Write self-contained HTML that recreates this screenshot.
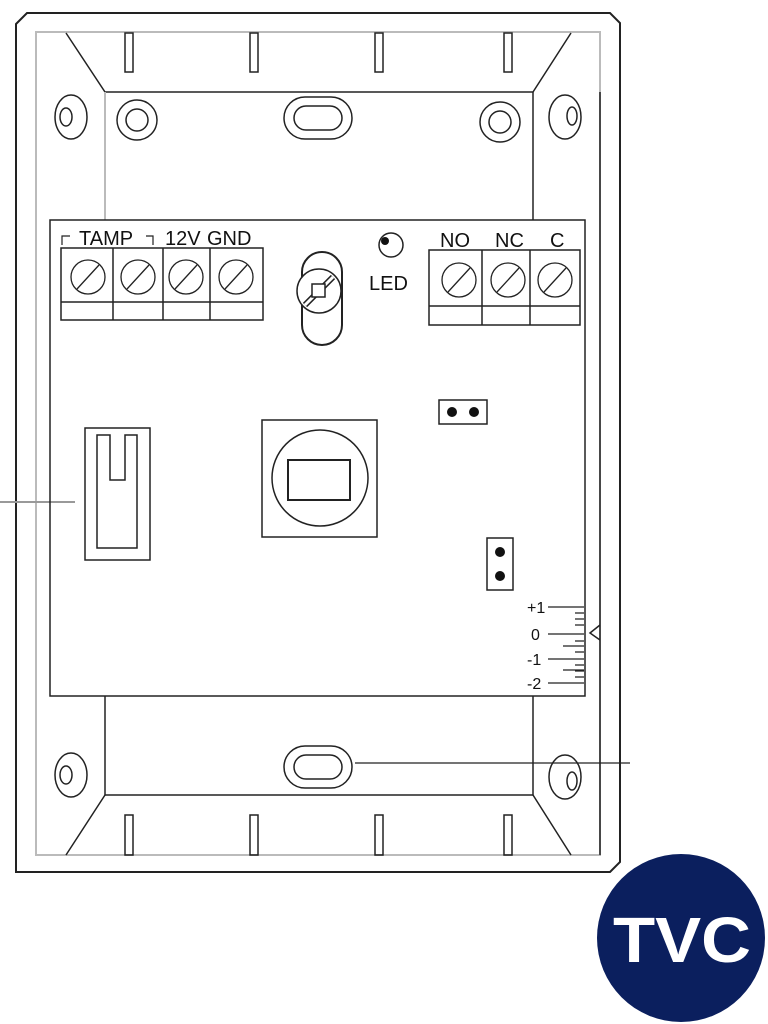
<!DOCTYPE html>
<html><head><style>body{margin:0;background:#fff}svg{display:block}</style></head><body>
<svg width="768" height="1024" viewBox="0 0 768 1024" xmlns="http://www.w3.org/2000/svg" font-family="Liberation Sans, sans-serif">
<g fill="none" stroke="#222" stroke-width="2">
<path d="M16 24 L27 13 L610 13 L620 23 L620 862 L610 872 L16 872 Z"/>
<path d="M36 32 L600 32 L600 855 L36 855 Z" stroke="#bbb"/>
<path d="M600 92 L600 855" stroke-width="1.5"/>
<path d="M66 33 L105 92 L533 92 L571 33" stroke-width="1.5"/>
<path d="M105 92 L105 220" stroke="#bbb"/>
<path d="M533 92 L533 220" stroke-width="1.5"/>
<path d="M533 696 L533 795 L105 795 L105 696" stroke-width="1.5"/>
<path d="M105 795 L66 855 M533 795 L571 855" stroke-width="1.5"/>
<path d="M0 502 L75 502" stroke="#999"/>
<path d="M355 763 L630 763" stroke-width="1.2"/>
<rect x="50" y="220" width="535" height="476" stroke-width="1.5"/>
<g stroke-width="1.5">
<rect x="125" y="33" width="8" height="39"/><rect x="250" y="33" width="8" height="39"/><rect x="375" y="33" width="8" height="39"/><rect x="504" y="33" width="8" height="39"/>
<rect x="125" y="815" width="8" height="40"/><rect x="250" y="815" width="8" height="40"/><rect x="375" y="815" width="8" height="40"/><rect x="504" y="815" width="8" height="40"/>
<ellipse cx="71" cy="117" rx="16" ry="22"/><ellipse cx="66" cy="117" rx="6" ry="9"/>
<circle cx="137" cy="120" r="20"/><circle cx="137" cy="120" r="11"/>
<rect x="284" y="97" width="68" height="42" rx="21"/><rect x="294" y="106" width="48" height="24" rx="12"/>
<circle cx="500" cy="122" r="20"/><circle cx="500" cy="122" r="11"/>
<ellipse cx="565" cy="117" rx="16" ry="22"/><ellipse cx="572" cy="116" rx="5" ry="9"/>
<ellipse cx="71" cy="775" rx="16" ry="22"/><ellipse cx="66" cy="775" rx="6" ry="9"/>
<rect x="284" y="746" width="68" height="42" rx="21"/><rect x="294" y="755" width="48" height="24" rx="12"/>
<ellipse cx="565" cy="777" rx="16" ry="22"/><ellipse cx="572" cy="781" rx="5" ry="9"/>
</g>
<g stroke-width="1.5">
<rect x="61" y="248" width="202" height="72"/><path d="M61 302H263M113 248V320M163 248V320M210 248V320"/>
<rect x="429" y="250" width="151" height="75"/><path d="M429 306H580M482 250V325M530 250V325"/>
<path d="M62 245V236H70M146 236H153V245" stroke-width="1.2"/>
</g>
<g stroke-width="1.3">
<circle cx="88" cy="277" r="17"/><path d="M77 289L99 265"/>
<circle cx="138" cy="277" r="17"/><path d="M127 289L149 265"/>
<circle cx="186" cy="277" r="17"/><path d="M175 289L197 265"/>
<circle cx="236" cy="277" r="17"/><path d="M225 289L247 265"/>
<circle cx="459" cy="280" r="17"/><path d="M448 292L470 268"/>
<circle cx="508" cy="280" r="17"/><path d="M497 292L519 268"/>
<circle cx="555" cy="280" r="17"/><path d="M544 292L566 268"/>
</g>
<rect x="302" y="252" width="40" height="93" rx="20" stroke-width="2"/>
<circle cx="319" cy="291" r="22" fill="#fff" stroke-width="1.5"/>
<path d="M305 305L333 277" stroke-width="6"/><path d="M305 305L333 277" stroke="#fff" stroke-width="3"/>
<rect x="312" y="284" width="13" height="13" fill="#fff" stroke-width="1.5"/>
<circle cx="391" cy="245" r="12" stroke-width="1.5"/>
<rect x="439" y="400" width="48" height="24" stroke-width="1.5"/>
<rect x="487" y="538" width="26" height="52" stroke-width="1.5"/>
<rect x="262" y="420" width="115" height="117" stroke-width="1.5"/>
<circle cx="320" cy="478" r="48" stroke-width="1.5"/>
<rect x="288" y="460" width="62" height="40" stroke-width="2"/>
<rect x="85" y="428" width="65" height="132" stroke-width="1.5"/>
<path d="M97 435V548H137V435H125V480H110V435Z" stroke-width="1.5"/>
<g stroke-width="1.3"><path d="M548 607H584M548 634H584M548 659H584M548 683H584M575 613H584M575 619H584M575 625H584M575 641H584M575 646H584M575 652H584M575 665H584M575 671H584M575 677H584M563 646H584M563 670H584"/>
<path d="M600 625L590 633L600 640" stroke-width="1.5"/></g>
</g>
<g fill="#111"><circle cx="385" cy="241" r="4"/><circle cx="452" cy="412" r="5"/><circle cx="474" cy="412" r="5"/><circle cx="500" cy="552" r="5"/><circle cx="500" cy="576" r="5"/></g>
<g font-size="20" fill="#111">
<text x="79" y="245">TAMP</text><text x="165" y="245">12V</text><text x="207" y="245">GND</text>
<text x="440" y="247">NO</text><text x="495" y="247">NC</text><text x="550" y="247">C</text>
<text x="369" y="290">LED</text>
</g>
<g font-size="16" fill="#111"><text x="527" y="613">+1</text><text x="531" y="640">0</text><text x="527" y="665">-1</text><text x="527" y="689">-2</text></g>
<circle cx="681" cy="938" r="84" fill="#0b1f5e"/>
<text x="682" y="962" font-size="64" font-weight="bold" fill="#fff" text-anchor="middle" textLength="138" lengthAdjust="spacingAndGlyphs">TVC</text>
</svg>
</body></html>
